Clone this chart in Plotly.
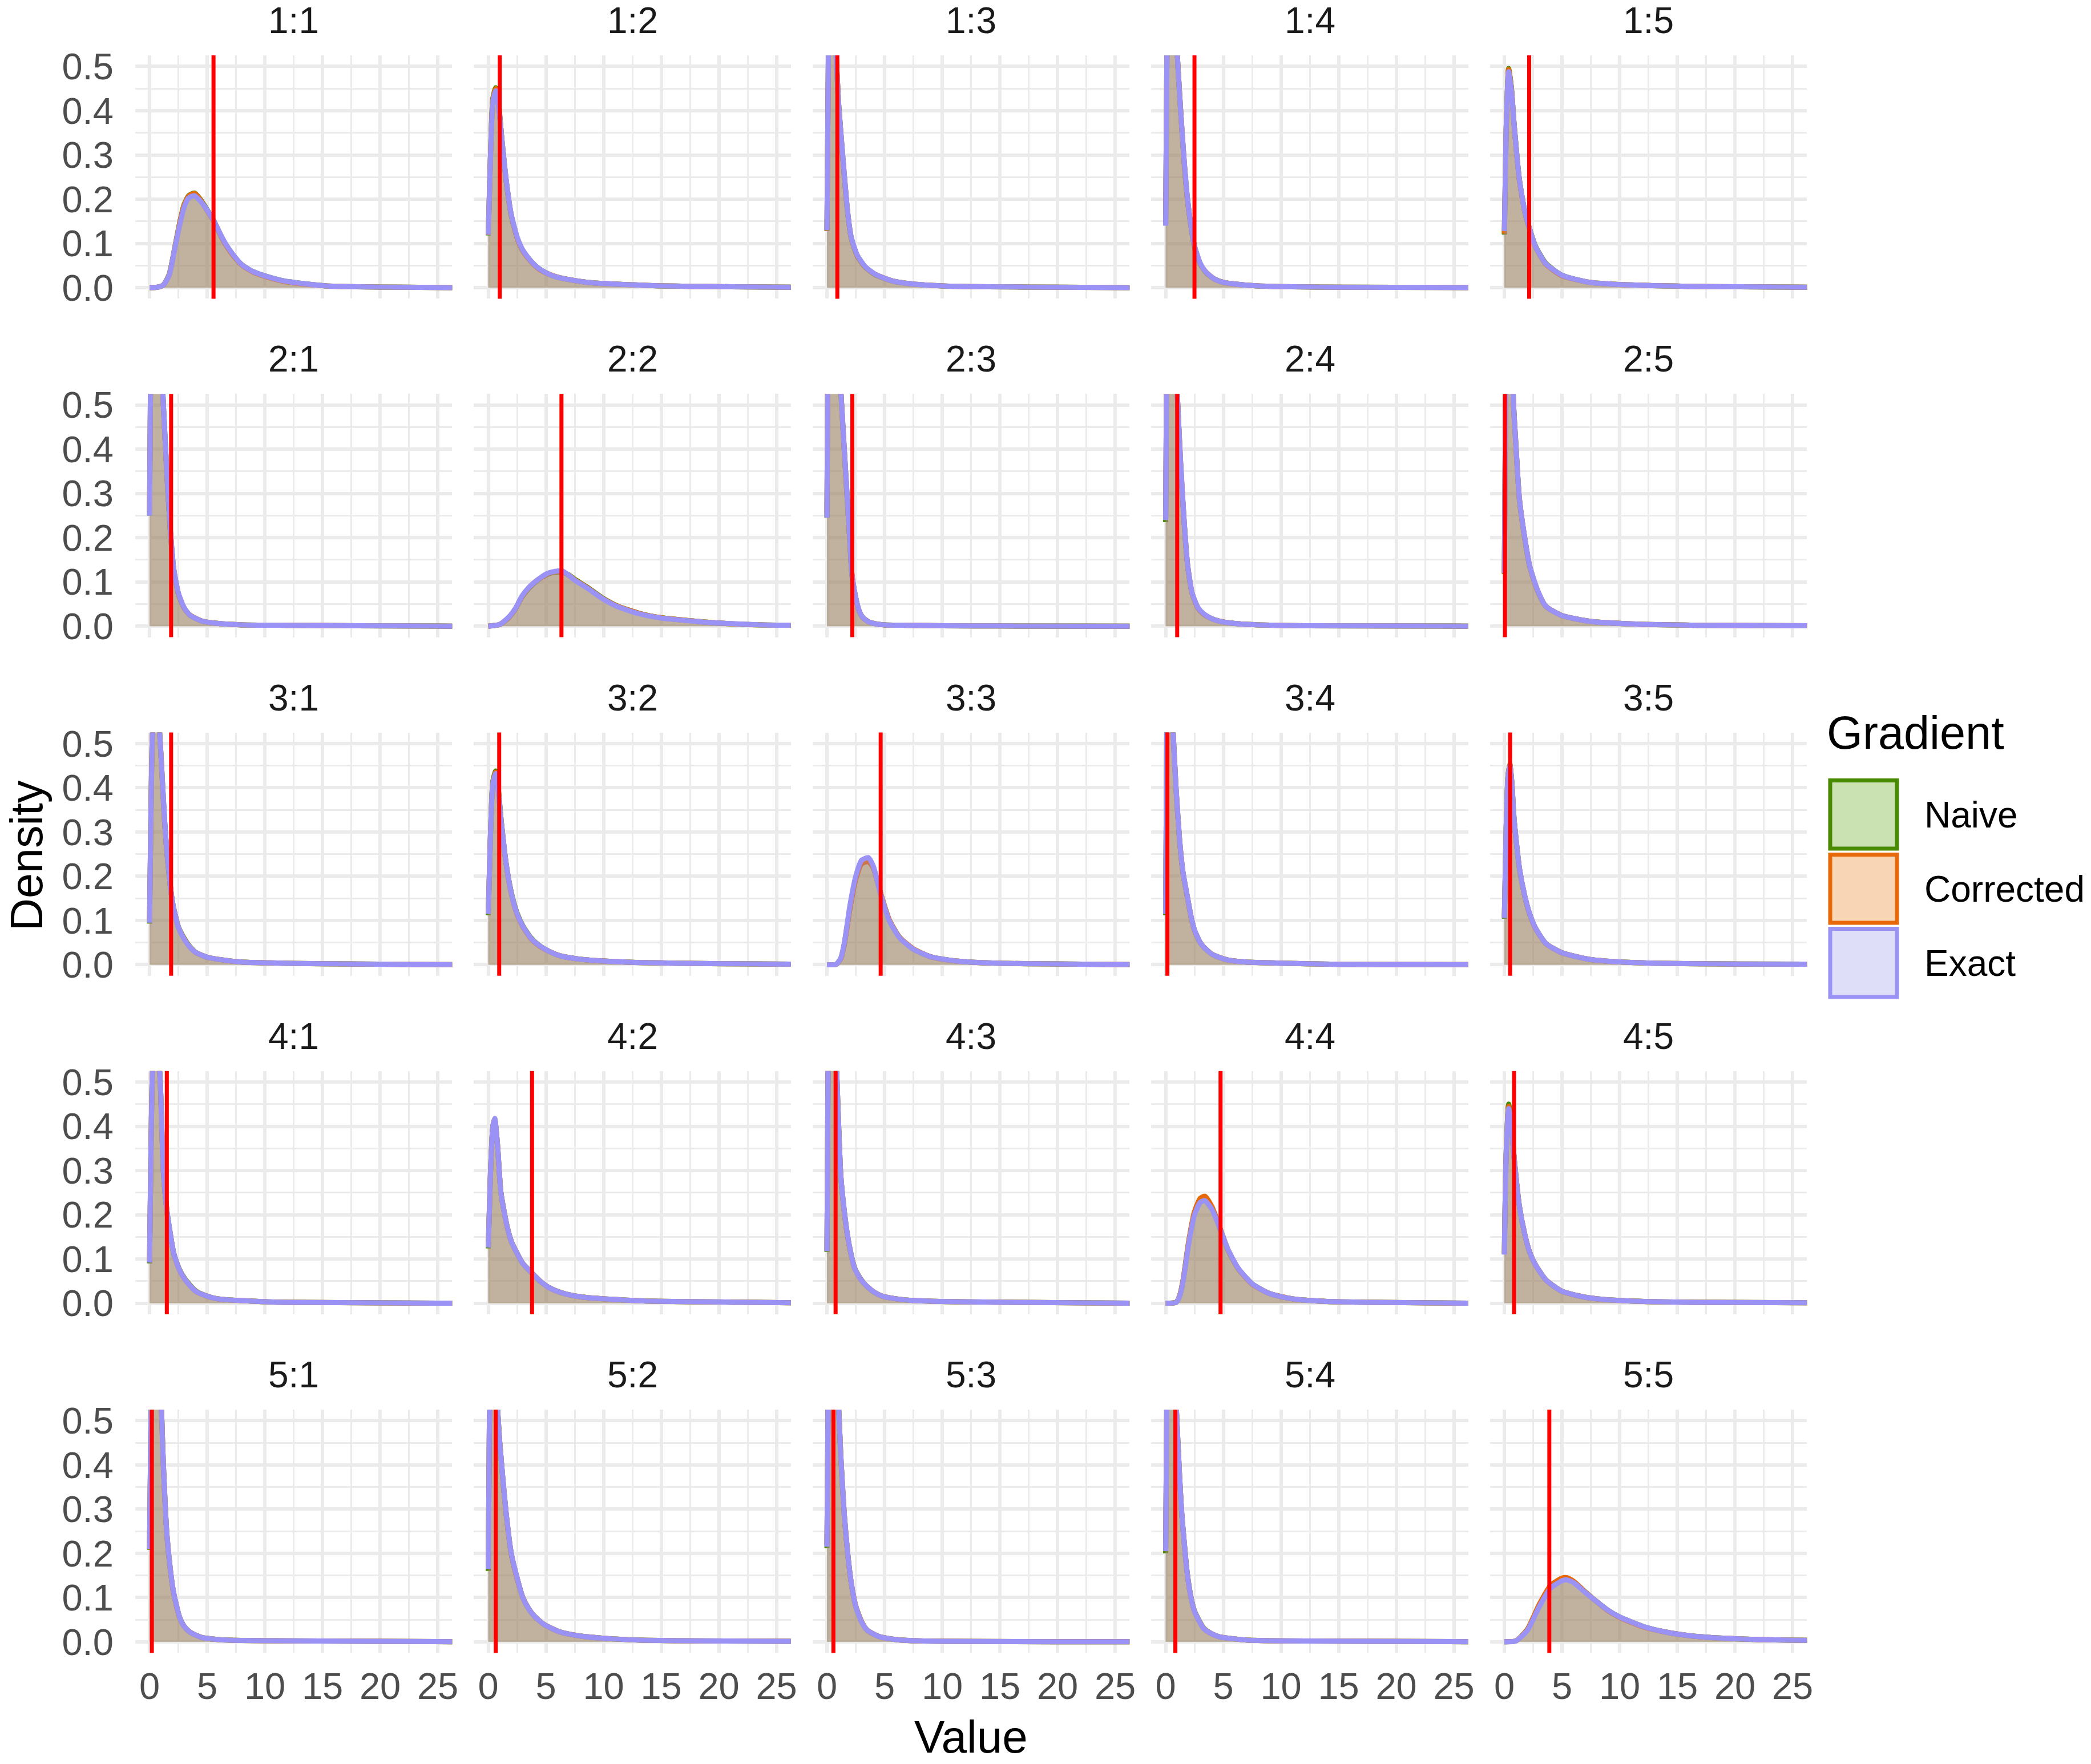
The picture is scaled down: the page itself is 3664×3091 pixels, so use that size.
import plotly.graph_objects as go

# ---------------- data ----------------
PANELS = ["1:1", "1:2", "1:3", "1:4", "1:5",
          "2:1", "2:2", "2:3", "2:4", "2:5",
          "3:1", "3:2", "3:3", "3:4", "3:5",
          "4:1", "4:2", "4:3", "4:4", "4:5",
          "5:1", "5:2", "5:3", "5:4", "5:5"]

VLINE = [5.55, 1.0, 0.9, 2.5, 2.15,
         1.87, 6.35, 2.2, 1.0, 0.05,
         1.87, 0.95, 4.66, 0.15, 0.5,
         1.5, 3.8, 0.75, 4.76, 0.84,
         0.2, 0.65, 0.56, 0.84, 3.9]

X_11 = [0, 0.7, 1.2, 1.7, 2.2, 2.6, 3.0, 3.4, 3.9, 4.4, 5.0, 5.6, 6.2, 6.7, 7.3, 8.0, 9.0, 10.2, 11.5, 12.75, 15.3, 18, 22, 27]
EXACT_11 = [0.0, 0.001, 0.006, 0.028, 0.09, 0.14, 0.182, 0.203, 0.208, 0.196, 0.175, 0.15, 0.118, 0.095, 0.073, 0.052, 0.036, 0.025, 0.016, 0.011, 0.004, 0.002, 0.001, 0.0]
NAIVE_11 = [0.0, 0.001, 0.006, 0.03, 0.092, 0.145, 0.188, 0.208, 0.214, 0.2, 0.176, 0.15, 0.117, 0.094, 0.072, 0.052, 0.036, 0.025, 0.016, 0.011, 0.004, 0.002, 0.001, 0.0]
CORRECTED_11 = [0.0, 0.001, 0.006, 0.029, 0.091, 0.144, 0.187, 0.207, 0.213, 0.199, 0.174, 0.149, 0.116, 0.093, 0.071, 0.051, 0.035, 0.024, 0.015, 0.01, 0.004, 0.002, 0.001, 0.0]

X_12 = [0, 0.2, 0.4, 0.65, 0.9, 1.2, 1.6, 2.0, 2.5, 3.0, 3.7, 4.4, 5.3, 6.25, 7.5, 9, 11, 12.8, 15, 17.4, 21, 27]
EXACT_12 = [0.12, 0.3, 0.42, 0.445, 0.41, 0.33, 0.235, 0.165, 0.115, 0.085, 0.06, 0.043, 0.03, 0.022, 0.016, 0.011, 0.008, 0.006, 0.004, 0.003, 0.002, 0.001]
NAIVE_12 = [0.118, 0.305, 0.428, 0.452, 0.415, 0.33, 0.232, 0.163, 0.113, 0.084, 0.06, 0.043, 0.03, 0.022, 0.016, 0.011, 0.008, 0.006, 0.004, 0.003, 0.002, 0.001]
CORRECTED_12 = [0.119, 0.303, 0.425, 0.45, 0.413, 0.33, 0.233, 0.163, 0.113, 0.083, 0.059, 0.042, 0.03, 0.022, 0.016, 0.011, 0.008, 0.006, 0.004, 0.003, 0.002, 0.001]

X_13 = [0, 0.1, 0.25, 0.45, 0.7, 1.0, 1.4, 1.8, 2.1, 2.6, 3.3, 4.2, 5.7, 7.5, 10, 14, 20, 27]
EXACT_13 = [0.13, 0.45, 0.68, 0.7, 0.58, 0.42, 0.29, 0.17, 0.115, 0.075, 0.048, 0.03, 0.015, 0.008, 0.004, 0.002, 0.001, 0.0]
NAIVE_13 = [0.128, 0.45, 0.68, 0.7, 0.58, 0.42, 0.285, 0.168, 0.113, 0.073, 0.047, 0.029, 0.015, 0.008, 0.004, 0.002, 0.001, 0.0]
CORRECTED_13 = [0.129, 0.45, 0.68, 0.7, 0.58, 0.42, 0.287, 0.169, 0.114, 0.074, 0.047, 0.03, 0.015, 0.008, 0.004, 0.002, 0.001, 0.0]

X_14 = [0, 0.1, 0.3, 0.6, 1.0, 1.3, 1.6, 1.9, 2.2, 2.5, 3.0, 3.5, 4.2, 5.0, 6.0, 8.0, 11, 15, 27]
EXACT_14 = [0.14, 0.5, 0.8, 0.75, 0.53, 0.4, 0.29, 0.2, 0.14, 0.095, 0.055, 0.035, 0.02, 0.012, 0.008, 0.004, 0.002, 0.001, 0.0]
NAIVE_14 = [0.145, 0.5, 0.8, 0.75, 0.53, 0.4, 0.285, 0.197, 0.138, 0.093, 0.054, 0.034, 0.02, 0.012, 0.008, 0.004, 0.002, 0.001, 0.0]
CORRECTED_14 = [0.143, 0.5, 0.8, 0.75, 0.53, 0.4, 0.287, 0.198, 0.139, 0.094, 0.054, 0.035, 0.02, 0.012, 0.008, 0.004, 0.002, 0.001, 0.0]

X_15 = [0, 0.15, 0.37, 0.6, 0.84, 1.3, 1.77, 2.05, 2.7, 3.6, 5.0, 7.4, 11, 15.8, 20, 27]
EXACT_15 = [0.128, 0.35, 0.488, 0.45, 0.37, 0.245, 0.172, 0.145, 0.093, 0.054, 0.028, 0.012, 0.006, 0.003, 0.002, 0.001]
NAIVE_15 = [0.12, 0.35, 0.495, 0.455, 0.372, 0.245, 0.172, 0.145, 0.094, 0.055, 0.028, 0.012, 0.006, 0.003, 0.002, 0.001]
CORRECTED_15 = [0.122, 0.352, 0.493, 0.453, 0.37, 0.244, 0.171, 0.144, 0.092, 0.053, 0.027, 0.012, 0.006, 0.003, 0.002, 0.001]

X_21 = [0, 0.1, 0.3, 0.6, 0.9, 1.2, 1.5, 1.8, 2.1, 2.5, 3.0, 3.5, 4.5, 6, 8, 12, 18, 27]
EXACT_21 = [0.25, 0.6, 0.85, 0.82, 0.68, 0.5, 0.35, 0.22, 0.13, 0.075, 0.042, 0.025, 0.012, 0.006, 0.003, 0.002, 0.001, 0.0]
NAIVE_21 = [0.25, 0.6, 0.85, 0.82, 0.68, 0.5, 0.345, 0.216, 0.128, 0.073, 0.041, 0.025, 0.012, 0.006, 0.003, 0.002, 0.001, 0.0]
CORRECTED_21 = [0.258, 0.6, 0.85, 0.82, 0.68, 0.5, 0.347, 0.218, 0.128, 0.074, 0.041, 0.025, 0.012, 0.006, 0.003, 0.002, 0.001, 0.0]

X_22 = [0, 1.0, 1.8, 2.4, 2.9, 3.5, 4.05, 4.6, 5.2, 5.8, 6.4, 7.0, 7.5, 8.6, 9.9, 11.25, 13.1, 15, 17.7, 20, 23.75, 27]
EXACT_22 = [0.0, 0.004, 0.021, 0.042, 0.067, 0.087, 0.1, 0.111, 0.12, 0.124, 0.125, 0.115, 0.104, 0.086, 0.0625, 0.044, 0.028, 0.0185, 0.0116, 0.007, 0.003, 0.002]
NAIVE_22 = [0.0, 0.004, 0.02, 0.041, 0.065, 0.085, 0.099, 0.11, 0.118, 0.122, 0.122, 0.116, 0.106, 0.088, 0.064, 0.045, 0.029, 0.019, 0.012, 0.007, 0.003, 0.002]
CORRECTED_22 = [0.0, 0.004, 0.02, 0.041, 0.066, 0.086, 0.1, 0.11, 0.119, 0.123, 0.123, 0.115, 0.105, 0.087, 0.063, 0.045, 0.029, 0.019, 0.012, 0.007, 0.003, 0.002]

X_23 = [0, 0.1, 0.3, 0.6, 0.9, 1.22, 1.6, 2.0, 2.17, 2.5, 2.8, 3.1, 3.6, 4.3, 5, 7, 10, 15, 27]
EXACT_23 = [0.245, 0.75, 0.95, 0.85, 0.7, 0.525, 0.36, 0.19, 0.118, 0.065, 0.035, 0.02, 0.01, 0.005, 0.003, 0.002, 0.001, 0.0005, 0.0]
NAIVE_23 = [0.245, 0.75, 0.95, 0.85, 0.7, 0.525, 0.355, 0.185, 0.115, 0.063, 0.034, 0.02, 0.01, 0.005, 0.003, 0.002, 0.001, 0.0005, 0.0]
CORRECTED_23 = [0.255, 0.75, 0.95, 0.85, 0.7, 0.525, 0.357, 0.187, 0.116, 0.064, 0.034, 0.02, 0.01, 0.005, 0.003, 0.002, 0.001, 0.0005, 0.0]

X_24 = [0, 0.1, 0.3, 0.6, 1.0, 1.3, 1.6, 1.9, 2.3, 2.8, 3.3, 4.0, 4.7, 6, 8, 12, 27]
EXACT_24 = [0.24, 0.65, 0.9, 0.8, 0.53, 0.37, 0.24, 0.14, 0.075, 0.042, 0.028, 0.017, 0.011, 0.006, 0.003, 0.001, 0.0]
NAIVE_24 = [0.235, 0.65, 0.9, 0.8, 0.53, 0.365, 0.236, 0.138, 0.074, 0.041, 0.027, 0.017, 0.011, 0.006, 0.003, 0.001, 0.0]
CORRECTED_24 = [0.245, 0.65, 0.9, 0.8, 0.53, 0.367, 0.238, 0.139, 0.074, 0.041, 0.027, 0.017, 0.011, 0.006, 0.003, 0.001, 0.0]

X_25 = [0, 0.1, 0.3, 0.55, 0.8, 1.0, 1.3, 1.77, 2.2, 2.9, 3.6, 5.0, 7.4, 11, 16.7, 27]
EXACT_25 = [0.12, 0.5, 0.8, 0.72, 0.5, 0.41, 0.29, 0.2, 0.136, 0.08, 0.045, 0.024, 0.011, 0.005, 0.002, 0.001]
NAIVE_25 = [0.118, 0.5, 0.8, 0.72, 0.5, 0.41, 0.288, 0.198, 0.135, 0.079, 0.045, 0.024, 0.011, 0.005, 0.002, 0.001]
CORRECTED_25 = [0.119, 0.5, 0.8, 0.72, 0.5, 0.41, 0.289, 0.199, 0.135, 0.079, 0.045, 0.024, 0.011, 0.005, 0.002, 0.001]

X_31 = [0, 0.1, 0.25, 0.5, 0.8, 1.0, 1.3, 1.6, 2.0, 2.5, 3.0, 3.5, 4.0, 5.0, 6.0, 8.0, 10.5, 15, 27]
EXACT_31 = [0.095, 0.3, 0.52, 0.6, 0.55, 0.47, 0.33, 0.23, 0.14, 0.085, 0.058, 0.04, 0.028, 0.017, 0.012, 0.006, 0.004, 0.002, 0.0]
NAIVE_31 = [0.093, 0.3, 0.52, 0.6, 0.55, 0.47, 0.325, 0.228, 0.14, 0.086, 0.06, 0.041, 0.028, 0.017, 0.012, 0.006, 0.004, 0.002, 0.0]
CORRECTED_31 = [0.1, 0.3, 0.52, 0.6, 0.55, 0.47, 0.327, 0.229, 0.14, 0.085, 0.059, 0.04, 0.028, 0.017, 0.012, 0.006, 0.004, 0.002, 0.0]

X_32 = [0, 0.2, 0.4, 0.65, 0.9, 1.1, 1.6, 2.05, 2.5, 3.0, 3.7, 4.4, 5.3, 6.25, 7.5, 9, 11, 12.8, 15, 17.4, 21, 27]
EXACT_32 = [0.115, 0.3, 0.41, 0.432, 0.385, 0.33, 0.22, 0.156, 0.115, 0.087, 0.06, 0.044, 0.03, 0.02, 0.014, 0.01, 0.007, 0.005, 0.004, 0.003, 0.002, 0.001]
NAIVE_32 = [0.112, 0.3, 0.415, 0.438, 0.39, 0.332, 0.22, 0.158, 0.117, 0.088, 0.061, 0.044, 0.03, 0.02, 0.014, 0.01, 0.007, 0.005, 0.004, 0.003, 0.002, 0.001]
CORRECTED_32 = [0.118, 0.3, 0.412, 0.435, 0.387, 0.33, 0.219, 0.155, 0.114, 0.086, 0.059, 0.043, 0.03, 0.02, 0.014, 0.01, 0.007, 0.005, 0.004, 0.003, 0.002, 0.001]

X_33 = [0, 0.8, 1.2, 1.5, 2.0, 2.5, 3.0, 3.6, 4.0, 4.7, 5.4, 6.3, 7.5, 9, 11, 14, 18, 27]
EXACT_33 = [0.0, 0.001, 0.015, 0.048, 0.135, 0.2, 0.236, 0.242, 0.224, 0.156, 0.1, 0.061, 0.035, 0.018, 0.009, 0.004, 0.002, 0.0]
NAIVE_33 = [0.0, 0.001, 0.014, 0.046, 0.13, 0.196, 0.232, 0.238, 0.222, 0.157, 0.101, 0.062, 0.035, 0.018, 0.009, 0.004, 0.002, 0.0]
CORRECTED_33 = [0.0, 0.001, 0.014, 0.045, 0.128, 0.193, 0.228, 0.233, 0.22, 0.158, 0.102, 0.062, 0.036, 0.018, 0.009, 0.004, 0.002, 0.0]

X_34 = [0, 0.1, 0.3, 0.5, 0.65, 0.9, 1.2, 1.5, 1.87, 2.2, 2.5, 3.0, 3.3, 4.0, 4.7, 5.5, 7, 10.7, 15, 27]
EXACT_34 = [0.115, 0.55, 0.8, 0.62, 0.525, 0.4, 0.286, 0.21, 0.156, 0.11, 0.079, 0.05, 0.04, 0.024, 0.016, 0.01, 0.006, 0.003, 0.001, 0.0]
NAIVE_34 = [0.112, 0.55, 0.8, 0.62, 0.525, 0.398, 0.284, 0.208, 0.155, 0.109, 0.078, 0.05, 0.04, 0.024, 0.016, 0.01, 0.006, 0.003, 0.001, 0.0]
CORRECTED_34 = [0.118, 0.55, 0.8, 0.62, 0.525, 0.399, 0.285, 0.209, 0.155, 0.109, 0.078, 0.05, 0.04, 0.024, 0.016, 0.01, 0.006, 0.003, 0.001, 0.0]

X_35 = [0, 0.15, 0.3, 0.47, 0.65, 0.84, 1.3, 1.77, 2.2, 2.7, 3.6, 5.0, 7.4, 11, 16.7, 27]
EXACT_35 = [0.106, 0.3, 0.42, 0.452, 0.41, 0.33, 0.22, 0.156, 0.115, 0.083, 0.048, 0.027, 0.012, 0.005, 0.002, 0.001]
NAIVE_35 = [0.104, 0.3, 0.422, 0.455, 0.412, 0.33, 0.219, 0.155, 0.114, 0.083, 0.048, 0.027, 0.012, 0.005, 0.002, 0.001]
CORRECTED_35 = [0.108, 0.3, 0.421, 0.453, 0.411, 0.33, 0.219, 0.155, 0.114, 0.082, 0.048, 0.027, 0.012, 0.005, 0.002, 0.001]

X_41 = [0, 0.1, 0.25, 0.5, 0.75, 0.93, 1.2, 1.5, 1.68, 2.1, 2.6, 3.1, 4.0, 5.0, 5.9, 8.7, 12, 27]
EXACT_41 = [0.092, 0.3, 0.52, 0.6, 0.57, 0.5, 0.3, 0.21, 0.178, 0.113, 0.075, 0.053, 0.027, 0.016, 0.01, 0.005, 0.002, 0.0]
NAIVE_41 = [0.09, 0.3, 0.52, 0.6, 0.57, 0.5, 0.298, 0.21, 0.177, 0.113, 0.076, 0.054, 0.028, 0.016, 0.01, 0.005, 0.002, 0.0]
CORRECTED_41 = [0.096, 0.3, 0.52, 0.6, 0.57, 0.5, 0.299, 0.209, 0.176, 0.112, 0.075, 0.053, 0.027, 0.016, 0.01, 0.005, 0.002, 0.0]

X_42 = [0, 0.2, 0.4, 0.56, 0.8, 1.1, 1.6, 2.0, 2.5, 3.0, 3.8, 4.5, 5.3, 6.2, 7.2, 8.5, 10, 12, 13.7, 16, 19.3, 23, 27]
EXACT_42 = [0.126, 0.3, 0.4, 0.418, 0.36, 0.25, 0.178, 0.14, 0.113, 0.09, 0.068, 0.05, 0.035, 0.025, 0.018, 0.013, 0.01, 0.007, 0.005, 0.004, 0.003, 0.002, 0.001]
NAIVE_42 = [0.124, 0.3, 0.4, 0.416, 0.358, 0.25, 0.178, 0.14, 0.113, 0.09, 0.068, 0.05, 0.035, 0.025, 0.018, 0.013, 0.01, 0.007, 0.005, 0.004, 0.003, 0.002, 0.001]
CORRECTED_42 = [0.128, 0.3, 0.4, 0.417, 0.359, 0.25, 0.178, 0.14, 0.113, 0.09, 0.068, 0.05, 0.035, 0.025, 0.018, 0.013, 0.01, 0.007, 0.005, 0.004, 0.003, 0.002, 0.001]

X_43 = [0, 0.1, 0.3, 0.55, 0.84, 1.2, 1.5, 1.77, 2.1, 2.4, 2.9, 3.4, 4.1, 4.8, 6, 7.6, 12.2, 27]
EXACT_43 = [0.118, 0.55, 0.82, 0.72, 0.525, 0.29, 0.21, 0.156, 0.11, 0.079, 0.055, 0.04, 0.025, 0.016, 0.01, 0.006, 0.003, 0.0]
NAIVE_43 = [0.116, 0.55, 0.82, 0.72, 0.525, 0.288, 0.209, 0.155, 0.11, 0.08, 0.056, 0.04, 0.025, 0.016, 0.01, 0.006, 0.003, 0.0]
CORRECTED_43 = [0.12, 0.55, 0.82, 0.72, 0.525, 0.289, 0.208, 0.155, 0.109, 0.079, 0.055, 0.04, 0.025, 0.016, 0.01, 0.006, 0.003, 0.0]

X_44 = [0, 0.9, 1.2, 1.5, 2.0, 2.5, 3.0, 3.4, 4.0, 4.7, 5.4, 6.3, 7.5, 9, 11, 14, 18, 27]
EXACT_44 = [0.0, 0.002, 0.015, 0.048, 0.135, 0.2, 0.228, 0.232, 0.213, 0.17, 0.122, 0.079, 0.044, 0.022, 0.01, 0.004, 0.002, 0.0]
NAIVE_44 = [0.0, 0.002, 0.016, 0.05, 0.138, 0.204, 0.233, 0.237, 0.216, 0.17, 0.121, 0.078, 0.044, 0.022, 0.01, 0.004, 0.002, 0.0]
CORRECTED_44 = [0.0, 0.002, 0.016, 0.051, 0.14, 0.207, 0.237, 0.242, 0.219, 0.171, 0.121, 0.078, 0.043, 0.022, 0.01, 0.004, 0.002, 0.0]

X_45 = [0, 0.15, 0.37, 0.6, 0.84, 1.3, 1.77, 2.2, 2.7, 3.6, 5.0, 7.4, 11, 16.7, 27]
EXACT_45 = [0.11, 0.33, 0.44, 0.405, 0.33, 0.22, 0.156, 0.115, 0.087, 0.053, 0.027, 0.012, 0.005, 0.002, 0.001]
NAIVE_45 = [0.112, 0.335, 0.45, 0.41, 0.332, 0.22, 0.156, 0.115, 0.087, 0.053, 0.027, 0.012, 0.005, 0.002, 0.001]
CORRECTED_45 = [0.111, 0.333, 0.445, 0.407, 0.331, 0.22, 0.156, 0.115, 0.087, 0.053, 0.027, 0.012, 0.005, 0.002, 0.001]

X_51 = [0, 0.1, 0.3, 0.6, 0.9, 1.2, 1.5, 1.8, 2.1, 2.6, 3.0, 3.5, 4.5, 6, 8, 12, 27]
EXACT_51 = [0.21, 0.45, 0.68, 0.72, 0.62, 0.4, 0.245, 0.165, 0.11, 0.056, 0.035, 0.022, 0.01, 0.005, 0.003, 0.002, 0.0]
NAIVE_51 = [0.208, 0.45, 0.68, 0.72, 0.62, 0.4, 0.243, 0.163, 0.109, 0.056, 0.035, 0.022, 0.01, 0.005, 0.003, 0.002, 0.0]
CORRECTED_51 = [0.214, 0.45, 0.68, 0.72, 0.62, 0.4, 0.244, 0.164, 0.109, 0.055, 0.035, 0.022, 0.01, 0.005, 0.003, 0.002, 0.0]

X_52 = [0, 0.1, 0.3, 0.6, 1.0, 1.3, 1.6, 2.0, 2.5, 3.0, 3.5, 4.0, 4.85, 6.25, 8, 10, 13, 18, 27]
EXACT_52 = [0.165, 0.5, 0.65, 0.6, 0.45, 0.36, 0.28, 0.2, 0.145, 0.1, 0.075, 0.058, 0.039, 0.022, 0.013, 0.008, 0.004, 0.002, 0.001]
NAIVE_52 = [0.16, 0.5, 0.65, 0.6, 0.45, 0.358, 0.278, 0.198, 0.144, 0.1, 0.075, 0.058, 0.039, 0.022, 0.013, 0.008, 0.004, 0.002, 0.001]
CORRECTED_52 = [0.17, 0.5, 0.65, 0.6, 0.45, 0.359, 0.279, 0.199, 0.144, 0.1, 0.075, 0.058, 0.039, 0.022, 0.013, 0.008, 0.004, 0.002, 0.001]

X_53 = [0, 0.1, 0.3, 0.6, 0.9, 1.2, 1.5, 1.8, 2.1, 2.5, 3.0, 3.5, 4.5, 6, 8, 27]
EXACT_53 = [0.215, 0.55, 0.8, 0.75, 0.6, 0.42, 0.29, 0.2, 0.135, 0.08, 0.045, 0.026, 0.012, 0.005, 0.002, 0.0]
NAIVE_53 = [0.212, 0.55, 0.8, 0.75, 0.6, 0.42, 0.288, 0.199, 0.134, 0.08, 0.046, 0.026, 0.012, 0.005, 0.002, 0.0]
CORRECTED_53 = [0.22, 0.55, 0.8, 0.75, 0.6, 0.42, 0.289, 0.2, 0.135, 0.081, 0.046, 0.026, 0.012, 0.005, 0.002, 0.0]

X_54 = [0, 0.1, 0.3, 0.6, 0.93, 1.2, 1.4, 1.87, 2.2, 2.5, 3.3, 4.0, 4.7, 7, 10, 27]
EXACT_54 = [0.205, 0.55, 0.82, 0.75, 0.525, 0.38, 0.29, 0.155, 0.1, 0.069, 0.03, 0.018, 0.011, 0.004, 0.002, 0.0]
NAIVE_54 = [0.2, 0.55, 0.82, 0.75, 0.525, 0.378, 0.289, 0.156, 0.101, 0.07, 0.031, 0.018, 0.011, 0.004, 0.002, 0.0]
CORRECTED_54 = [0.21, 0.55, 0.82, 0.75, 0.525, 0.379, 0.288, 0.154, 0.1, 0.069, 0.03, 0.018, 0.011, 0.004, 0.002, 0.0]

X_55 = [0, 1, 2, 3, 4, 5, 5.4, 6, 7, 8, 9, 10, 12, 14, 16, 18, 20, 22, 25, 27]
EXACT_55 = [0.0, 0.002, 0.026, 0.078, 0.121, 0.138, 0.14, 0.134, 0.112, 0.091, 0.071, 0.056, 0.035, 0.022, 0.014, 0.0095, 0.007, 0.005, 0.0035, 0.003]
NAIVE_55 = [0.0, 0.002, 0.028, 0.082, 0.125, 0.142, 0.143, 0.136, 0.113, 0.091, 0.071, 0.056, 0.035, 0.022, 0.014, 0.0095, 0.007, 0.005, 0.0035, 0.003]
CORRECTED_55 = [0.0, 0.002, 0.028, 0.083, 0.127, 0.144, 0.145, 0.137, 0.113, 0.091, 0.07, 0.055, 0.034, 0.022, 0.014, 0.0095, 0.007, 0.005, 0.0035, 0.003]

XS = [X_11, X_12, X_13, X_14, X_15, X_21, X_22, X_23, X_24, X_25,
      X_31, X_32, X_33, X_34, X_35, X_41, X_42, X_43, X_44, X_45,
      X_51, X_52, X_53, X_54, X_55]
NAIVE = [NAIVE_11, NAIVE_12, NAIVE_13, NAIVE_14, NAIVE_15, NAIVE_21, NAIVE_22, NAIVE_23, NAIVE_24, NAIVE_25,
         NAIVE_31, NAIVE_32, NAIVE_33, NAIVE_34, NAIVE_35, NAIVE_41, NAIVE_42, NAIVE_43, NAIVE_44, NAIVE_45,
         NAIVE_51, NAIVE_52, NAIVE_53, NAIVE_54, NAIVE_55]
CORRECTED = [CORRECTED_11, CORRECTED_12, CORRECTED_13, CORRECTED_14, CORRECTED_15,
             CORRECTED_21, CORRECTED_22, CORRECTED_23, CORRECTED_24, CORRECTED_25,
             CORRECTED_31, CORRECTED_32, CORRECTED_33, CORRECTED_34, CORRECTED_35,
             CORRECTED_41, CORRECTED_42, CORRECTED_43, CORRECTED_44, CORRECTED_45,
             CORRECTED_51, CORRECTED_52, CORRECTED_53, CORRECTED_54, CORRECTED_55]
EXACT = [EXACT_11, EXACT_12, EXACT_13, EXACT_14, EXACT_15, EXACT_21, EXACT_22, EXACT_23, EXACT_24, EXACT_25,
         EXACT_31, EXACT_32, EXACT_33, EXACT_34, EXACT_35, EXACT_41, EXACT_42, EXACT_43, EXACT_44, EXACT_45,
         EXACT_51, EXACT_52, EXACT_53, EXACT_54, EXACT_55]

SERIES = ["Naive", "Corrected", "Exact"]
X_TICKS = [0, 5, 10, 15, 20, 25]
Y_TICKS = [0.0, 0.1, 0.2, 0.3, 0.4, 0.5]

# ---------------- styling ----------------
W, H = 3664, 3091
FONT = "Liberation Sans, Arial, Helvetica, sans-serif"
LINE_COL = {"Naive": "#488A00", "Corrected": "#E8690A", "Exact": "#9A93F5"}
FILL_COL = {"Naive": "rgba(80,160,0,0.3)", "Corrected": "rgba(232,115,10,0.3)",
            "Exact": "rgba(150,146,232,0.3)"}
GRID = "#EBEBEB"

COL_LEFT0, COL_STEP, PANEL_W = 236.8, 593.5, 555.5
ROW_TOP0, ROW_STEP, PANEL_H = 97.1, 593.2, 426.3

fig = go.Figure()
layout = dict(
    width=W, height=H, margin=dict(l=0, r=0, t=0, b=0, pad=0, autoexpand=False),
    paper_bgcolor="white", plot_bgcolor="white", showlegend=False,
    font=dict(family=FONT, color="#4D4D4D", size=65),
)
annotations = []
shapes = []

for i, label in enumerate(PANELS):
    r, c = divmod(i, 5)
    n = i + 1
    xa = "x" if n == 1 else f"x{n}"
    ya = "y" if n == 1 else f"y{n}"
    left = COL_LEFT0 + c * COL_STEP
    top = ROW_TOP0 + r * ROW_STEP
    for name, data in zip(SERIES, [NAIVE, CORRECTED, EXACT]):
        fig.add_trace(go.Scatter(
            x=XS[i], y=data[i], mode="lines", name=name,
            line=dict(color=LINE_COL[name], width=9, shape="spline", smoothing=0.6),
            fill="tozeroy", fillcolor=FILL_COL[name],
            xaxis=xa, yaxis=ya, hoverinfo="skip", showlegend=False))
    layout[f"xaxis{'' if n == 1 else n}"] = dict(
        domain=[left / W, (left + PANEL_W) / W], anchor=ya, automargin=False,
        range=[-1.25, 26.25], tickmode="array", tickvals=X_TICKS,
        showticklabels=(r == 4), ticks="", ticklabelstandoff=15,
        tickfont=dict(size=65, color="#4D4D4D", family=FONT),
        showgrid=True, gridcolor=GRID, gridwidth=6, zeroline=False, showline=False,
        minor=dict(tickvals=[2.5, 7.5, 12.5, 17.5, 22.5], showgrid=True,
                   gridcolor=GRID, gridwidth=3, ticks=""),
        fixedrange=True)
    layout[f"yaxis{'' if n == 1 else n}"] = dict(
        domain=[1 - (top + PANEL_H) / H, 1 - top / H], anchor=xa, automargin=False,
        range=[-0.025, 0.525], tickmode="array", tickvals=Y_TICKS,
        ticktext=[f"{v:.1f}" for v in Y_TICKS],
        showticklabels=(c == 0), ticks="", ticklabelstandoff=37,
        tickfont=dict(size=65, color="#4D4D4D", family=FONT),
        showgrid=True, gridcolor=GRID, gridwidth=6, zeroline=False, showline=False,
        minor=dict(tickvals=[0.05, 0.15, 0.25, 0.35, 0.45], showgrid=True,
                   gridcolor=GRID, gridwidth=3, ticks=""),
        fixedrange=True)
    # reference vertical line
    shapes.append(dict(type="line", xref=xa, yref=f"{ya} domain",
                       x0=VLINE[i], x1=VLINE[i], y0=0, y1=1,
                       line=dict(color="#FF0000", width=7), layer="above"))
    # strip label
    annotations.append(dict(text=label, xref="paper", yref="paper",
                            x=(left + PANEL_W / 2) / W, y=1 - (top - 61) / H,
                            xanchor="center", yanchor="middle", showarrow=False,
                            font=dict(size=64, color="#1A1A1A", family=FONT)))

# axis titles
annotations.append(dict(text="Value", xref="paper", yref="paper", x=1701 / W, y=1 - 3043 / H,
                        xanchor="center", yanchor="middle", showarrow=False,
                        font=dict(size=80, color="black", family=FONT)))
annotations.append(dict(text="Density", xref="paper", yref="paper", x=46 / W, y=1 - 1499 / H,
                        xanchor="center", yanchor="middle", showarrow=False, textangle=-90,
                        font=dict(size=79, color="black", family=FONT)))

# legend (drawn manually to match ggplot key sizes)
annotations.append(dict(text="Gradient", xref="paper", yref="paper", x=3199 / W, y=1 - 1284 / H,
                        xanchor="left", yanchor="middle", showarrow=False,
                        font=dict(size=81, color="black", family=FONT)))
key_tops = [1367.5, 1497.5, 1627.5]
for name, kt in zip(SERIES, key_tops):
    shapes.append(dict(type="rect", xref="paper", yref="paper",
                       x0=3207 / W, x1=3324 / W, y0=1 - (kt + 119.5) / H, y1=1 - kt / H,
                       fillcolor=FILL_COL[name], line=dict(color=LINE_COL[name], width=7)))
    annotations.append(dict(text=name, xref="paper", yref="paper", x=3370 / W,
                            y=1 - (kt + 60) / H, xanchor="left", yanchor="middle",
                            showarrow=False, font=dict(size=64, color="black", family=FONT)))

layout["annotations"] = annotations
layout["shapes"] = shapes
fig.update_layout(**layout)
fig.write_html("out.html", config={"displayModeBar": False},
               post_script="document.body.style.margin='0';document.body.style.padding='0';")
